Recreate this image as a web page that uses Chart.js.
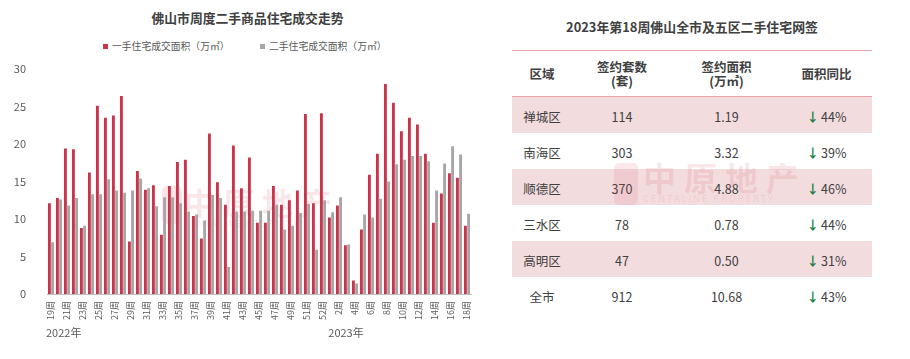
<!DOCTYPE html>
<html lang="zh-CN">
<head>
<meta charset="utf-8">
<title>佛山市周度二手商品住宅成交走势</title>
<script src="https://cdn.jsdelivr.net/npm/chart.js@4/dist/chart.umd.min.js"></script>
<style>
  html, body { margin: 0; padding: 0; background: #fff; }
  body { width: 910px; height: 359px; position: relative; overflow: hidden;
         font-family: "Noto Sans CJK SC", "Noto Sans", sans-serif; color: #404040; }
  .abs { position: absolute; white-space: nowrap; }
  #chart-title { left: 0; width: 495px; top: 9px; text-align: center; font-size: 12.8px; font-weight: bold; line-height: 18px; }
  .legend-item { top: 39px; font-size: 9.8px; line-height: 14px; color: #595959; }
  .legend-box { display: inline-block; width: 5px; height: 5px; margin-right: 4px; vertical-align: 1px; }
  .watermark { color: rgba(222, 95, 110, 0.16); font-weight: bold; font-size: 31px; letter-spacing: 8px; line-height: 32px; pointer-events: none; }
  .watermark small { display: block; font-size: 8.5px; letter-spacing: 1.5px; line-height: 10px; font-weight: normal; }
  .wm-logo { width: 20px; height: 38px; border-radius: 5px; background: rgba(222, 95, 110, 0.16); pointer-events: none; }
  #chart-wrap { left: 0; top: 0; width: 490px; height: 359px; }
  #table-title { left: 512px; width: 360px; top: 18px; text-align: center; font-size: 12.9px; font-weight: bold; line-height: 18px; }
  #net-table { left: 512px; top: 50px; width: 360px; border-collapse: collapse; table-layout: fixed; font-size: 12.5px; }
  #net-table th, #net-table td { text-align: center; padding: 0; }
  #net-table thead tr { height: 46px; border-top: 1px solid #e9a2a9; border-bottom: 1px solid #e9a2a9; }
  #net-table thead th { font-weight: bold; line-height: 14px; }
  #net-table tbody tr { height: 36px; }
  #net-table tbody tr:nth-child(odd) { background: #f3dcde; }
  #net-table tbody td { padding-top: 4px; }
  .down { color: #16803c; font-weight: bold; margin-right: 2px; }
</style>
</head>
<body>

<!-- watermarks sit under the canvas / table -->
<div class="abs wm-logo" style="left:162px; top:186px;"></div>
<div class="abs watermark" style="left:184px; top:186px;">中原地产<small>CENTALINE PROPERTY</small></div>

<div class="abs" id="chart-title">佛山市周度二手商品住宅成交走势</div>
<div class="abs legend-item" style="left:103px;"><span class="legend-box" style="background:#c9344a"></span>一手住宅成交面积（万㎡）</div>
<div class="abs legend-item" style="left:260px;"><span class="legend-box" style="background:#a6a6a6"></span>二手住宅成交面积（万㎡）</div>

<div class="abs" id="chart-wrap"><canvas id="week-chart" width="490" height="359"></canvas></div>

<div class="abs" id="table-title">2023年第18周佛山全市及五区二手住宅网签</div>
<table class="abs" id="net-table">
  <colgroup><col style="width:60px"><col style="width:100px"><col style="width:109px"><col style="width:91px"></colgroup>
  <thead>
    <tr><th>区域</th><th>签约套数<br>(套)</th><th>签约面积<br>(万㎡)</th><th>面积同比</th></tr>
  </thead>
  <tbody id="net-body"></tbody>
</table>
<div class="abs wm-logo" style="left:614px; top:163px; width:24px; height:42px; background: rgba(222, 95, 110, 0.14);"></div>
<div class="abs watermark" style="left:643px; top:161px; font-size:33px; color: rgba(222, 95, 110, 0.16);">中原地产<small style="font-size:9.5px; letter-spacing:1.8px;">CENTALINE PROPERTY</small></div>

<script>
// ---- chart data (万㎡) ----
const weekLabels = [
  '19周', '20周', '21周', '22周', '23周', '24周', '25周', '26周', '27周', '28周',
  '29周', '30周', '31周', '32周', '33周', '34周', '35周', '36周', '37周', '38周',
  '39周', '40周', '41周', '42周', '43周', '44周', '45周', '46周', '47周', '48周',
  '49周', '50周', '51周', '52周', '52周', '1周', '2周', '3周', '4周', '5周',
  '6周', '7周', '8周', '9周', '10周', '11周', '12周', '13周', '14周', '15周',
  '16周', '17周', '18周'
];
const newHomeArea = [
  12.1, 12.8, 19.4, 19.3, 8.8, 16.2, 25.1, 23.5, 23.8, 26.4,
  7.0, 16.4, 13.9, 14.5, 7.9, 14.4, 17.6, 17.9, 10.4, 7.4,
  21.4, 14.9, 11.9, 19.8, 14.1, 18.2, 9.5, 9.5, 14.4, 11.9,
  12.5, 13.8, 24.0, 12.1, 24.1, 10.2, 11.8, 6.5, 1.8, 8.6,
  15.9, 18.7, 28.0, 25.5, 21.7, 23.5, 22.6, 18.7, 9.5, 13.4,
  16.1, 15.5, 9.1
];
const resaleArea = [
  6.9, 12.6, 11.8, 12.8, 9.1, 13.3, 13.3, 15.3, 13.8, 13.5,
  13.8, 15.4, 14.1, 11.7, 12.9, 12.9, 12.1, 11.0, 10.6, 9.8,
  13.2, 12.8, 3.6, 11.0, 11.0, 11.1, 11.1, 11.1, 11.9, 8.6,
  9.1, 10.8, 12.0, 5.9, 12.5, 10.9, 12.9, 6.6, 1.4, 10.6,
  10.2, 12.7, 15.0, 17.3, 17.9, 18.4, 18.4, 17.7, 13.8, 17.4,
  19.7, 18.6, 10.7
];
const yTicks = [0, 5, 10, 15, 20, 25, 30];
const yearLabels = ['2022年', '2023年'];

// ---- table data ----
const districts = ['禅城区', '南海区', '顺德区', '三水区', '高明区', '全市'];
const signedUnits = [114, 303, 370, 78, 47, 912];
const signedArea = ['1.19', '3.32', '4.88', '0.78', '0.50', '10.68'];
const areaYoY = ['44%', '39%', '46%', '44%', '31%', '43%'];

const FONT = '"Noto Sans CJK SC", "Noto Sans", sans-serif';

/**
 * Year captions under the week ticks
 */
const yearCaptions = {
  id: 'yearCaptions',
  afterDraw(chart) {
    const { ctx } = chart;
    const x = chart.scales.x;
    ctx.save();
    ctx.font = '11px ' + FONT;
    ctx.fillStyle = '#595959';
    ctx.textBaseline = 'middle';
    ctx.textAlign = 'left';
    ctx.fillText(yearLabels[0], x.getPixelForValue(0) - 5, 333);
    ctx.textAlign = 'center';
    ctx.fillText(yearLabels[1], x.getPixelForValue(37) - 1, 333);
    ctx.restore();
  }
};

function renderChart() {
  const ctx = document.getElementById('week-chart').getContext('2d');

  new Chart(ctx, {
    type: 'bar',
    data: {
      labels: weekLabels,
      datasets: [
        {
          label: '一手住宅成交面积（万㎡）',
          data: newHomeArea,
          backgroundColor: '#c9344a',
          barPercentage: 0.9,
          categoryPercentage: 0.8
        },
        {
          label: '二手住宅成交面积（万㎡）',
          data: resaleArea,
          backgroundColor: '#a6a6a6',
          barPercentage: 0.9,
          categoryPercentage: 0.8
        }
      ]
    },
    options: {
      responsive: false,
      animation: false,
      devicePixelRatio: 1,
      layout: { padding: { top: 69, left: 0, right: 19, bottom: 0 } },
      plugins: {
        legend: { display: false },
        title: { display: false },
        tooltip: { enabled: false }
      },
      scales: {
        x: {
          grid: { display: false, drawTicks: false },
          border: { display: true, color: '#bfbfbf', width: 1 },
          afterFit: function(scale) { scale.height = 65; },
          ticks: {
            autoSkip: false,
            minRotation: 90,
            maxRotation: 90,
            padding: 7,
            color: '#595959',
            font: { family: FONT, size: 9 },
            callback: function(value, index) {
              return index % 2 === 0 ? weekLabels[index] : '';
            }
          }
        },
        y: {
          min: 0,
          max: 30,
          afterFit: function(scale) { scale.width = 47; },
          afterBuildTicks: function(scale) {
            scale.ticks = yTicks.map(v => ({ value: v }));
          },
          grid: { display: false },
          border: { display: false },
          ticks: {
            padding: 13,
            color: '#595959',
            font: { family: FONT, size: 11 }
          }
        }
      }
    },
    plugins: [yearCaptions]
  });
}

function renderTable() {
  const body = document.getElementById('net-body');
  body.innerHTML = districts.map((name, i) => `
    <tr>
      <td>${name}</td>
      <td>${signedUnits[i]}</td>
      <td>${signedArea[i]}</td>
      <td><span class="down">↓</span>${areaYoY[i]}</td>
    </tr>`).join('');
}

renderTable();
renderChart();
</script>
</body>
</html>
